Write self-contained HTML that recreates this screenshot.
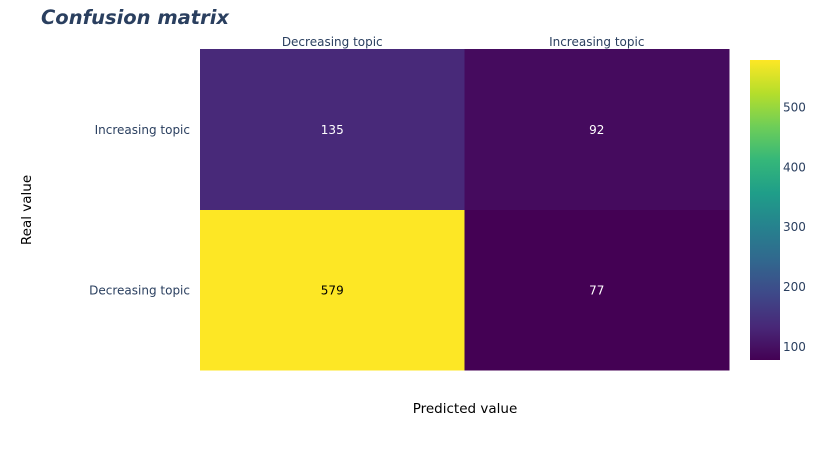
<!DOCTYPE html>
<html><head><meta charset="utf-8"><style>
body{margin:0;background:#fff;}
svg{display:block;font-family:"DejaVu Sans","Liberation Sans",sans-serif;}
</style></head><body>
<svg id="chart" width="824" height="450" viewBox="0 0 824 450">
<defs>
<linearGradient id="vir" x1="0" y1="1" x2="0" y2="0">
<stop offset="0" stop-color="#440154"/><stop offset="0.111" stop-color="#482878"/><stop offset="0.222" stop-color="#3e4989"/><stop offset="0.333" stop-color="#31688e"/><stop offset="0.444" stop-color="#26828e"/><stop offset="0.556" stop-color="#1f9e89"/><stop offset="0.667" stop-color="#35b779"/><stop offset="0.778" stop-color="#6ece58"/><stop offset="0.889" stop-color="#b5de2b"/><stop offset="1" stop-color="#fde725"/>
</linearGradient>
</defs>
<text x="41" y="24" font-size="19.5" font-weight="bold" font-style="italic" fill="#2a3f5f">Confusion matrix</text>
<g id="cells"></g>
<g id="cb"></g>
<text x="465" y="413" text-anchor="middle" font-size="13.5" fill="#000">Predicted value</text>
<text transform="translate(31,210) rotate(-90)" text-anchor="middle" font-size="13.5" fill="#000">Real value</text>
</svg>
<script>
const xCats = ["Decreasing topic","Increasing topic"];
const yCats = ["Decreasing topic","Increasing topic"]; // bottom to top
const zRowDecreasing = [579, 77];
const zRowIncreasing = [135, 92];
const cbTicks = [100,200,300,400,500];

const NS="http://www.w3.org/2000/svg";
const zRows=[zRowDecreasing,zRowIncreasing];
const all=zRows.flat(); const zmin=Math.min(...all), zmax=Math.max(...all);
const L=200,R=729,T=49,B=370;
const cw=(R-L)/xCats.length, ch=(B-T)/yCats.length;
const xPos=i=>L+i*cw, yPos=j=>B-(j+1)*ch;
const vir=["#440154","#482878","#3e4989","#31688e","#26828e","#1f9e89","#35b779","#6ece58","#b5de2b","#fde725"];
function hex(h){return [1,3,5].map(k=>parseInt(h.substr(k,2),16));}
function color(v){let t=(v-zmin)/(zmax-zmin);t=Math.max(0,Math.min(1,t));const p=t*(vir.length-1),i=Math.min(Math.floor(p),vir.length-2),f=p-i;const a=hex(vir[i]),b=hex(vir[i+1]);return "rgb("+a.map((c,k)=>Math.round(c+(b[k]-c)*f)).join(",")+")";}
function mk(tag,attrs,parent){const e=document.createElementNS(NS,tag);for(const k in attrs)e.setAttribute(k,attrs[k]);parent.appendChild(e);return e;}
const g=document.getElementById("cells");
zRows.forEach((row,j)=>row.forEach((v,i)=>{
  const r=mk("rect",{x:xPos(i),y:yPos(j),width:cw+0.5,height:ch+0.5,fill:color(v)},g);
  
  
  const t=mk("text",{x:xPos(i)+cw/2,y:yPos(j)+ch/2+4.5,"text-anchor":"middle","font-size":12,fill:(v-zmin)/(zmax-zmin)>0.5?"#000":"#fff"},g);
  t.textContent=v;
  
  
}));
xCats.forEach((c,i)=>{const t=mk("text",{x:xPos(i)+cw/2,y:46,"text-anchor":"middle","font-size":12,fill:"#2a3f5f"},g);t.textContent=c;
  
  });
yCats.forEach((c,j)=>{const t=mk("text",{x:190,y:yPos(j)+ch/2+4.5,"text-anchor":"end","font-size":12,fill:"#2a3f5f"},g);t.textContent=c;
  
  });
const cb=document.getElementById("cb");
const cT=60,cB=360,cL=750,cW=30;
const cy=v=>cB-(v-zmin)/(zmax-zmin)*(cB-cT);
const bar=mk("rect",{x:cL,y:cT,width:cW,height:cB-cT,fill:"url(#vir)"},cb);


cbTicks.forEach(v=>{const t=mk("text",{x:cL+cW+3,y:cy(v)+4.5,"font-size":12,fill:"#2a3f5f"},cb);t.textContent=v;
  
  });
</script>
</body></html>
